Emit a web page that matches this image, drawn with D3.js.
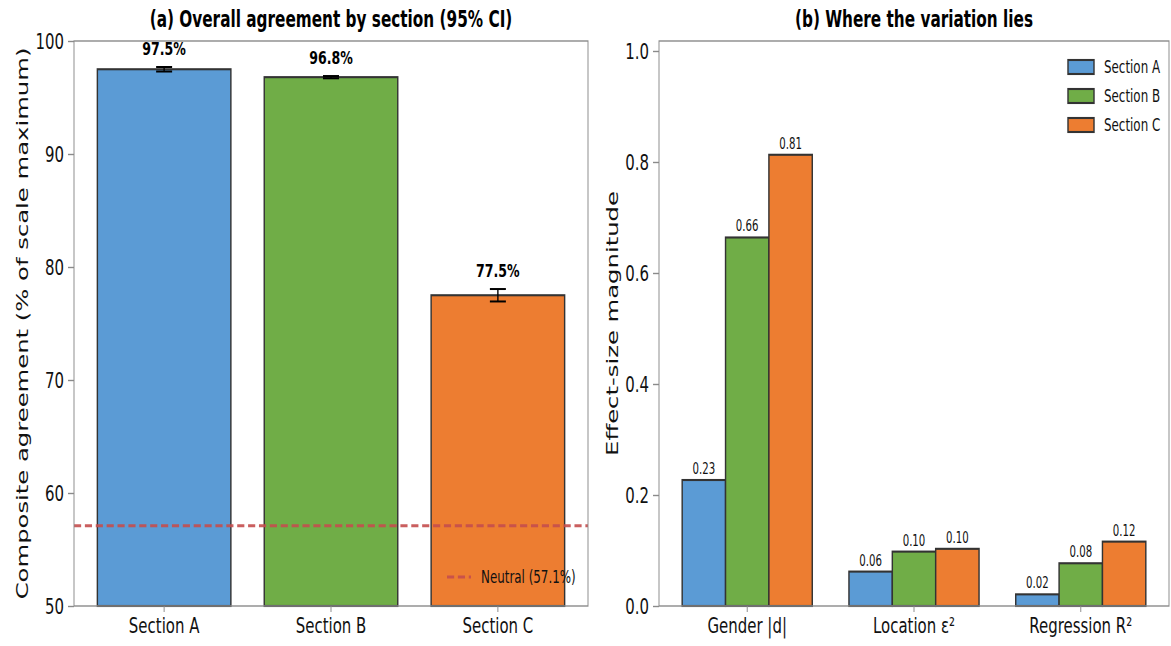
<!DOCTYPE html>
<html>
<head>
<meta charset="utf-8">
<script src="https://cdn.jsdelivr.net/npm/d3@7"></script>
<style>
  html, body { margin: 0; padding: 0; background: #ffffff; }
  svg { display: block; font-family: "DejaVu Sans", sans-serif; }
</style>
</head>
<body>
<svg id="chart" width="1171" height="646"></svg>
<script>
// ---- data ----
const sections = ["Section A", "Section B", "Section C"];
const sectionColors = ["#5b9bd5", "#70ad47", "#ed7d31"];

// panel (a): composite agreement (% of scale maximum) with 95% CI half-widths
const agreement = [97.5, 96.8, 77.5];
const agreementCI = [0.2, 0.1, 0.55];
const neutralLevel = 57.1;
const agreementTicks = [50, 60, 70, 80, 90, 100];

// panel (b): effect-size magnitudes per metric, one array per section
const metrics = ["Gender |d|", "Location ε²", "Regression R²"];
const effectA = [0.227, 0.062, 0.021];
const effectB = [0.664, 0.098, 0.077];
const effectC = [0.813, 0.103, 0.116];
const effectTicks = [0.0, 0.2, 0.4, 0.6, 0.8, 1.0];

// ---- layout ----
// The figure is drawn in a wider virtual space and squeezed horizontally.
const K = 0.68;
const VX = px => px / K;
const edge = "#333333";
const spine = "#8a8a8a";
const barStroke = 2.1;

const svg = d3.select("#chart");
const root = svg.append("g").attr("transform", `scale(${K},1)`);

function frame(g, x0, x1, y0, y1) {
  g.append("rect")
    .attr("x", x0).attr("y", y0)
    .attr("width", x1 - x0).attr("height", y1 - y0)
    .attr("fill", "none").attr("stroke", spine).attr("stroke-width", 1.4);
}

function styleAxis(sel) {
  sel.select(".domain").remove();
  sel.selectAll(".tick line").attr("stroke", spine).attr("stroke-width", 1.4);
  sel.selectAll(".tick text").attr("fill", "#111").attr("font-family", "DejaVu Sans");
}

// ================= panel (a) =================
const a = root.append("g");
const aLeft = VX(74), aRight = VX(588), aTop = 41, aBottom = 606;

const xA = d3.scaleBand().domain(sections).range([aLeft, aRight])
  .paddingInner(0.2).paddingOuter(0.14);
const yA = d3.scaleLinear().domain([50, 100]).range([aBottom, aTop]);

// bars
a.selectAll("rect.bar").data(sections).join("rect")
  .attr("class", "bar")
  .attr("x", d => xA(d))
  .attr("width", xA.bandwidth())
  .attr("y", (d, i) => yA(agreement[i]))
  .attr("height", (d, i) => yA(50) - yA(agreement[i]))
  .attr("fill", (d, i) => sectionColors[i])
  .attr("stroke", edge).attr("stroke-width", barStroke);

// neutral reference line
a.append("line")
  .attr("x1", aLeft).attr("x2", aRight)
  .attr("y1", yA(neutralLevel)).attr("y2", yA(neutralLevel))
  .attr("stroke", "#c44e4e").attr("stroke-opacity", 0.9)
  .attr("stroke-width", 2.8).attr("stroke-dasharray", "10.5,5.5");

// error bars
const capHalf = VX(8);
const eb = a.selectAll("g.err").data(sections).join("g").attr("class", "err");
eb.append("line")
  .attr("x1", d => xA(d) + xA.bandwidth() / 2).attr("x2", d => xA(d) + xA.bandwidth() / 2)
  .attr("y1", (d, i) => yA(agreement[i] - agreementCI[i]))
  .attr("y2", (d, i) => yA(agreement[i] + agreementCI[i]))
  .attr("stroke", "#000").attr("stroke-width", 2);
[-1, 1].forEach(s => {
  eb.append("line")
    .attr("x1", d => xA(d) + xA.bandwidth() / 2 - capHalf)
    .attr("x2", d => xA(d) + xA.bandwidth() / 2 + capHalf)
    .attr("y1", (d, i) => yA(agreement[i] + s * agreementCI[i]))
    .attr("y2", (d, i) => yA(agreement[i] + s * agreementCI[i]))
    .attr("stroke", "#000").attr("stroke-width", 2);
});

// value labels
a.selectAll("text.val").data(sections).join("text")
  .attr("class", "val")
  .attr("x", d => xA(d) + xA.bandwidth() / 2)
  .attr("y", (d, i) => yA(agreement[i] + agreementCI[i]) - 12)
  .attr("text-anchor", "middle")
  .attr("font-size", 18.5).attr("font-weight", "bold").attr("fill", "#000")
  .text((d, i) => d3.format(".1f")(agreement[i]) + "%");

frame(a, aLeft, aRight, aTop, aBottom);

a.append("g").attr("transform", `translate(${aLeft},0)`)
  .call(d3.axisLeft(yA).tickValues(agreementTicks).tickFormat(d3.format("d"))
    .tickSize(VX(6)).tickPadding(VX(4)))
  .call(styleAxis)
  .call(g => g.selectAll(".tick text").attr("font-size", 22));

a.append("g").attr("transform", `translate(0,${aBottom})`)
  .call(d3.axisBottom(xA).tickSize(6).tickPadding(5))
  .call(styleAxis)
  .call(g => g.selectAll(".tick text").attr("font-size", 22));

a.append("text")
  .attr("transform", `translate(${VX(22)},${(aTop + aBottom) / 2}) rotate(-90)`)
  .attr("text-anchor", "middle").attr("dominant-baseline", "central")
  .attr("font-size", 24.3).attr("fill", "#111")
  .text("Composite agreement (% of scale maximum)");

a.append("text")
  .attr("x", (aLeft + aRight) / 2).attr("y", 27)
  .attr("text-anchor", "middle")
  .attr("font-size", 22.5).attr("font-weight", "bold").attr("fill", "#000")
  .text("(a) Overall agreement by section (95% CI)");

// legend for the neutral line
const la = a.append("g");
la.append("line")
  .attr("x1", VX(447)).attr("x2", VX(471)).attr("y1", 577).attr("y2", 577)
  .attr("stroke", "#c44e4e").attr("stroke-opacity", 0.9)
  .attr("stroke-width", 2.8).attr("stroke-dasharray", "10.5,5.5");
la.append("text")
  .attr("x", VX(481)).attr("y", 577).attr("dominant-baseline", "central")
  .attr("font-size", 17.5).attr("fill", "#111")
  .text(`Neutral (${neutralLevel}%)`);

// ================= panel (b) =================
const b = root.append("g");
const bLeft = VX(659), bRight = VX(1169), bTop = 41, bBottom = 606;
const effects = [effectA, effectB, effectC];

const x0 = d3.scaleBand().domain(metrics).range([bLeft, bRight])
  .paddingInner(0.22).paddingOuter(0.139);
const x1 = d3.scaleBand().domain(sections).range([0, x0.bandwidth()]);
const yB = d3.scaleLinear().domain([0, 1.018]).range([bBottom, bTop]);

const cells = [];
metrics.forEach((m, mi) => sections.forEach((s, si) => {
  cells.push({ metric: m, section: s, si, value: effects[si][mi] });
}));

b.selectAll("rect.bar").data(cells).join("rect")
  .attr("class", "bar")
  .attr("x", d => x0(d.metric) + x1(d.section))
  .attr("width", x1.bandwidth())
  .attr("y", d => yB(d.value))
  .attr("height", d => yB(0) - yB(d.value))
  .attr("fill", d => sectionColors[d.si])
  .attr("stroke", edge).attr("stroke-width", barStroke);

b.selectAll("text.val").data(cells).join("text")
  .attr("class", "val")
  .attr("x", d => x0(d.metric) + x1(d.section) + x1.bandwidth() / 2)
  .attr("y", d => yB(d.value) - 6)
  .attr("text-anchor", "middle")
  .attr("font-size", 15).attr("fill", "#111")
  .text(d => d3.format(".2f")(d.value));

frame(b, bLeft, bRight, bTop, bBottom);

b.append("g").attr("transform", `translate(${bLeft},0)`)
  .call(d3.axisLeft(yB).tickValues(effectTicks).tickFormat(d3.format(".1f"))
    .tickSize(VX(6)).tickPadding(VX(4)))
  .call(styleAxis)
  .call(g => g.selectAll(".tick text").attr("font-size", 22));

b.append("g").attr("transform", `translate(0,${bBottom})`)
  .call(d3.axisBottom(x0).tickSize(6).tickPadding(5))
  .call(styleAxis)
  .call(g => g.selectAll(".tick text").attr("font-size", 22));

b.append("text")
  .attr("transform", `translate(${VX(612)},${(bTop + bBottom) / 2}) rotate(-90)`)
  .attr("text-anchor", "middle").attr("dominant-baseline", "central")
  .attr("font-size", 24.3).attr("fill", "#111")
  .text("Effect-size magnitude");

b.append("text")
  .attr("x", (bLeft + bRight) / 2).attr("y", 27)
  .attr("text-anchor", "middle")
  .attr("font-size", 22.5).attr("font-weight", "bold").attr("fill", "#000")
  .text("(b) Where the variation lies");

// legend for sections
const lb = b.append("g");
sections.forEach((s, i) => {
  const cy = 67 + i * 29;
  lb.append("rect")
    .attr("x", VX(1068)).attr("y", cy - 7)
    .attr("width", VX(26)).attr("height", 14)
    .attr("fill", sectionColors[i]).attr("stroke", edge).attr("stroke-width", barStroke);
  lb.append("text")
    .attr("x", VX(1104)).attr("y", cy).attr("dominant-baseline", "central")
    .attr("font-size", 17.5).attr("fill", "#111")
    .text(s);
});
</script>
</body>
</html>
